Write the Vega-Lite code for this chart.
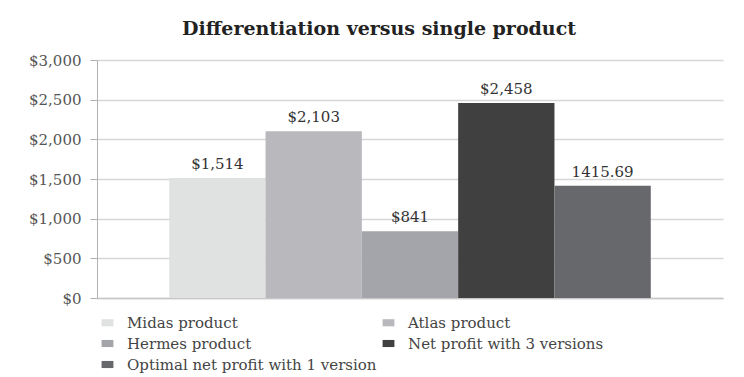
{
  "$schema": "https://vega.github.io/schema/vega-lite/v6.json",
  "autosize": {"type": "none"},
  "width": 626,
  "height": 238,
  "padding": {"left": 97, "top": 60, "right": 21, "bottom": 79},
  "background": "white",
  "title": {
    "text": "Differentiation versus single product",
    "font": "DejaVu Serif",
    "fontSize": 19,
    "fontWeight": "bold",
    "color": "#222222",
    "anchor": "middle",
    "dx": -31,
    "offset": 14
  },
  "data": {
    "values": [
      {"series": "Midas product", "value": 1514, "label": "$1,514"},
      {"series": "Atlas product", "value": 2103, "label": "$2,103"},
      {"series": "Hermes product", "value": 841, "label": "$841"},
      {"series": "Net profit with 3 versions", "value": 2458, "label": "$2,458"},
      {"series": "Optimal net profit with 1 version", "value": 1415.69, "label": "1415.69"}
    ]
  },
  "encoding": {
    "x": {
      "field": "series",
      "type": "nominal",
      "sort": null,
      "scale": {"paddingInner": 0, "paddingOuter": 0.75},
      "axis": {"labels": false, "ticks": false, "title": null, "domainColor": "#c8c8c8", "domainWidth": 1.5}
    },
    "y": {
      "field": "value",
      "type": "quantitative",
      "scale": {"domain": [0, 3000]},
      "axis": {
        "values": [0, 500, 1000, 1500, 2000, 2500, 3000],
        "format": "$,.0f",
        "title": null,
        "labelFont": "DejaVu Serif",
        "labelFontSize": 15,
        "labelColor": "#555555",
        "tickSize": 7,
        "tickColor": "#b0b0b0",
        "labelPadding": 9,
        "domainColor": "#b0b0b0",
        "gridColor": "#d6d6d6",
        "gridWidth": 1.5
      }
    }
  },
  "layer": [
    {
      "mark": {"type": "bar"},
      "encoding": {
        "color": {
          "field": "series",
          "type": "nominal",
          "sort": null,
          "scale": {
            "domain": ["Midas product", "Atlas product", "Hermes product", "Net profit with 3 versions", "Optimal net profit with 1 version"],
            "range": ["#e0e2e2", "#b9b8bd", "#a3a5aa", "#404040", "#66686b"]
          },
          "legend": {
            "title": null,
            "orient": "none",
            "direction": "horizontal",
            "legendX": 3,
            "legendY": 255,
            "columns": 2,
            "gridAlign": "all",
            "columnPadding": 4,
            "rowPadding": 5,
            "padding": 0,
            "symbolType": "M-1,-0.6H1V0.6H-1Z",
            "symbolSize": 140,
            "symbolStrokeWidth": 0,
            "labelOffset": 12,
            "labelFont": "DejaVu Serif",
            "labelFontSize": 15,
            "labelColor": "#444444",
            "labelLimit": 400
          }
        }
      }
    },
    {
      "mark": {"type": "text", "baseline": "bottom", "dy": -6, "font": "DejaVu Serif", "fontSize": 15, "color": "#333333"},
      "encoding": {"text": {"field": "label", "type": "nominal"}}
    }
  ],
  "config": {"view": {"stroke": null}}
}
